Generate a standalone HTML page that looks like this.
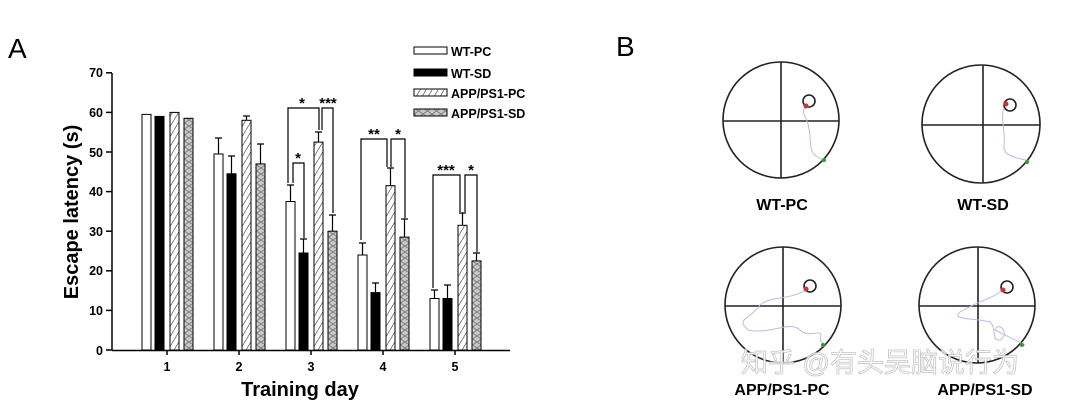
<!DOCTYPE html>
<html><head><meta charset="utf-8"><style>
html,body{margin:0;padding:0;background:#fff;width:1067px;height:406px;overflow:hidden}
text{font-family:"Liberation Sans",Arial,sans-serif}
</style></head><body>
<svg width="1067" height="406" viewBox="0 0 1067 406" xmlns="http://www.w3.org/2000/svg">
<defs>
<pattern id="h1" width="6" height="10" patternUnits="userSpaceOnUse"><rect width="6" height="10" fill="#fff"/><path d="M0,10 L6,0" stroke="#666" stroke-width="0.8"/></pattern>
<pattern id="h2" width="9" height="12" patternUnits="userSpaceOnUse"><rect width="9" height="12" fill="#c8c8c8"/><path d="M0,0 L9,6 L0,12 M9,0 L0,6 L9,12" stroke="#777" stroke-width="0.8" fill="none"/></pattern>
</defs>
<text x="8" y="58" font-size="28">A</text>
<text x="616" y="56" font-size="28">B</text>
<g stroke="#000" stroke-width="1.5" fill="none">
<line x1="112" y1="350.5" x2="510" y2="350.5"/>
<line x1="112" y1="73" x2="112" y2="350.5"/>
</g>
<g stroke="#000" stroke-width="1.5">
<line x1="106" y1="350" x2="112" y2="350"/><line x1="106" y1="310.4" x2="112" y2="310.4"/><line x1="106" y1="270.8" x2="112" y2="270.8"/><line x1="106" y1="231.2" x2="112" y2="231.2"/><line x1="106" y1="191.6" x2="112" y2="191.6"/><line x1="106" y1="152" x2="112" y2="152"/><line x1="106" y1="112.4" x2="112" y2="112.4"/><line x1="106" y1="72.8" x2="112" y2="72.8"/>
<line x1="167" y1="350" x2="167" y2="355"/><line x1="239" y1="350" x2="239" y2="355"/><line x1="311" y1="350" x2="311" y2="355"/><line x1="383" y1="350" x2="383" y2="355"/><line x1="455" y1="350" x2="455" y2="355"/>
</g>
<g font-size="12.5" font-weight="bold" text-anchor="end">
<text x="103" y="355">0</text><text x="103" y="315">10</text><text x="103" y="275">20</text><text x="103" y="236">30</text><text x="103" y="196">40</text><text x="103" y="157">50</text><text x="103" y="117">60</text><text x="103" y="77">70</text>
</g>
<g font-size="12.5" font-weight="bold" text-anchor="middle">
<text x="167" y="371">1</text><text x="239" y="371">2</text><text x="311" y="371">3</text><text x="383" y="371">4</text><text x="455" y="371">5</text>
</g>
<text x="300" y="396" font-size="20" font-weight="bold" text-anchor="middle">Training day</text>
<text transform="translate(78,212) rotate(-90)" font-size="20" font-weight="bold" text-anchor="middle">Escape latency (s)</text>
<g stroke="#000" stroke-width="1">
<rect x="142" y="114.4" width="9" height="235.6" fill="#fff"/>
<rect x="155" y="116.4" width="9" height="233.6" fill="#000"/>
<rect x="170" y="112.4" width="9" height="237.6" fill="url(#h1)"/>
<rect x="184" y="118.3" width="9" height="231.7" fill="url(#h2)"/>
<rect x="214" y="154" width="9" height="196" fill="#fff"/>
<rect x="227" y="173.8" width="9" height="176.2" fill="#000"/>
<rect x="242" y="120.3" width="9" height="229.7" fill="url(#h1)"/>
<rect x="256" y="163.9" width="9" height="186.1" fill="url(#h2)"/>
<rect x="286" y="201.5" width="9" height="148.5" fill="#fff"/>
<rect x="299" y="253" width="9" height="97" fill="#000"/>
<rect x="314" y="142.1" width="9" height="207.9" fill="url(#h1)"/>
<rect x="328" y="231.2" width="9" height="118.8" fill="url(#h2)"/>
<rect x="358" y="255" width="9" height="95" fill="#fff"/>
<rect x="371" y="292.6" width="9" height="57.4" fill="#000"/>
<rect x="386" y="185.7" width="9" height="164.3" fill="url(#h1)"/>
<rect x="400" y="237.1" width="9" height="112.9" fill="url(#h2)"/>
<rect x="430" y="298.5" width="9" height="51.5" fill="#fff"/>
<rect x="443" y="298.5" width="9" height="51.5" fill="#000"/>
<rect x="458" y="225.3" width="9" height="124.7" fill="url(#h1)"/>
<rect x="472" y="260.9" width="9" height="89.1" fill="url(#h2)"/>
</g>
<g stroke="#000" stroke-width="1.2" fill="none">
<path d="M218.5,154 V138 M215,138 H222 M231.5,174 V156 M228,156 H235 M246.5,120 V116 M243,116 H250 M260.5,164 V144 M257,144 H264"/>
<path d="M290.5,201 V185 M287,185 H294 M303.5,253 V239 M300,239 H307 M318.5,142 V132 M315,132 H322 M332.5,231 V215 M329,215 H336"/>
<path d="M362.5,255 V243 M359,243 H366 M375.5,292 V283 M372,283 H379 M390.5,186 V168 M387,168 H394 M404.5,237 V219 M401,219 H408"/>
<path d="M434.5,298 V290 M431,290 H438 M447.5,298 V285 M444,285 H451 M462.5,225 V213 M459,213 H466 M476.5,261 V253 M473,253 H480"/>
</g>
<g stroke="#000" stroke-width="1.2" fill="none">
<path d="M288,183 V108 H319 V130 M322,130 V108 H333 V213"/>
<path d="M293,183 V163 H304 V238"/>
<path d="M361,240 V139 H387 V167 M391,167 V139 H405 V218"/>
<path d="M433,288 V175 H460 V212 M465,212 V175 H477 V252"/>
</g>
<g font-size="15" font-weight="bold" text-anchor="middle">
<text x="302" y="108">*</text><text x="328" y="108">***</text>
<text x="298" y="163">*</text>
<text x="374" y="139">**</text><text x="398" y="139">*</text>
<text x="446" y="175">***</text><text x="471" y="175">*</text>
</g>
<g stroke="#000" stroke-width="1">
<rect x="414" y="47" width="33" height="7" fill="#fff"/>
<rect x="414" y="69" width="33" height="7" fill="#000"/>
<rect x="414" y="89" width="33" height="7" fill="url(#h1)"/>
<rect x="414" y="109" width="33" height="7" fill="url(#h2)"/>
</g>
<g font-size="12.5" font-weight="bold">
<text x="451" y="56">WT-PC</text><text x="451" y="78">WT-SD</text><text x="451" y="98">APP/PS1-PC</text><text x="451" y="118">APP/PS1-SD</text>
</g>
<g stroke="#222" stroke-width="1.6" fill="none">
<circle cx="781" cy="120" r="58"/><line x1="781" y1="62" x2="781" y2="178"/><line x1="723" y1="121" x2="839" y2="121"/>
<circle cx="981" cy="124" r="59"/><line x1="983" y1="65" x2="983" y2="183"/><line x1="922" y1="125" x2="1040" y2="125"/>
<circle cx="783" cy="305" r="58"/><line x1="783" y1="247" x2="783" y2="363"/><line x1="725" y1="306" x2="841" y2="306"/>
<circle cx="977" cy="305" r="58"/><line x1="978" y1="247" x2="978" y2="363"/><line x1="919" y1="306" x2="1035" y2="306"/>
<circle cx="809" cy="101" r="6"/><circle cx="1010" cy="105" r="6"/><circle cx="810" cy="286" r="6"/><circle cx="1007" cy="287" r="6"/>
</g>
<g stroke="#b8bce0" stroke-width="1" fill="none">
<path d="M806,107 C800,112 806,116 808,124 C812,140 808,150 816,156 L823,160"/>
<path d="M1004,108 C1000,120 1006,132 1004,145 C1002,155 1015,158 1026,160"/>
<path d="M806,290 C790,300 770,296 760,305 C750,320 735,318 748,330 C770,335 790,320 800,330 C810,340 825,325 820,340 L825,345"/>
<path d="M1003,290 C990,300 980,300 960,312 C950,320 975,318 990,322 C998,330 990,340 1000,340 C1010,335 1000,320 995,330 L1025,345"/>
</g>
<g fill="#c33"><circle cx="806" cy="106" r="2.5"/><circle cx="1006" cy="104" r="2.5"/><circle cx="806" cy="289" r="2.5"/><circle cx="1003" cy="290" r="2.5"/></g>
<g fill="#393"><circle cx="824" cy="160" r="2"/><circle cx="1027" cy="162" r="2"/><circle cx="823" cy="345" r="2"/><circle cx="1022" cy="345" r="2"/></g>
<g font-size="16" font-weight="bold" text-anchor="middle">
<text x="782" y="210">WT-PC</text><text x="983" y="210">WT-SD</text>
<text x="782" y="395">APP/PS1-PC</text><text x="985" y="395">APP/PS1-SD</text>
</g>
<text x="880" y="372" font-size="27" fill="#fff" stroke="#bbb" stroke-width="0.8" text-anchor="middle" font-family="'Liberation Sans','Noto Sans CJK SC',sans-serif" opacity="0.85">知乎 @有头吴脑说行为</text>
</svg>
</body></html>
